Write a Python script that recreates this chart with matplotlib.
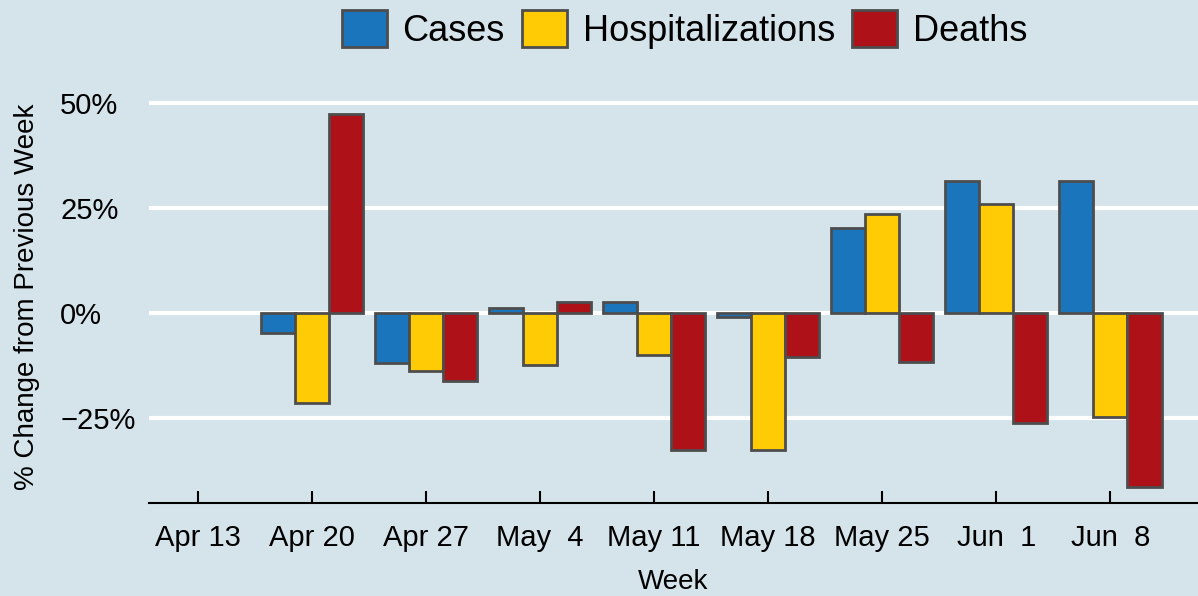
import matplotlib
matplotlib.use("Agg")
import matplotlib.pyplot as plt
import numpy as np

# weekly % change from previous week
weeks = ["Apr 13", "Apr 20", "Apr 27", "May  4", "May 11",
         "May 18", "May 25", "Jun  1", "Jun  8"]
cases = [np.nan, -4.8, -11.9, 1.2, 2.7, -0.9, 20.3, 31.3, 31.4]
hospitalizations = [np.nan, -21.4, -13.7, -12.4, -10.0, -32.6, 23.6, 25.9, -24.7]
deaths = [np.nan, 47.2, -16.0, 2.6, -32.6, -10.4, -11.6, -26.1, -41.2]

series = [("Cases", cases, "#1B75BC"),
          ("Hospitalizations", hospitalizations, "#FFCB05"),
          ("Deaths", deaths, "#AE1117")]

bg = "#D5E4EB"
edge = "#4D4D4D"

plt.rcParams["font.family"] = ["Liberation Sans", "DejaVu Sans"]

fig = plt.figure(figsize=(11.98, 5.96), dpi=100, facecolor=bg)
ax = fig.add_axes([0.1244, 0.156, 0.8756, 0.693], facecolor=bg)

x = np.arange(len(weeks))
width = 0.3
for i, (name, vals, color) in enumerate(series):
    ax.bar(x + (i - 1) * width, vals, width, color=color, edgecolor=edge,
           linewidth=2, label=name, zorder=3)

ax.set_xlim(-0.43, 8.77)
ax.set_ylim(-45.1, 53.0)
ax.set_yticks([-25, 0, 25, 50])
ax.set_yticklabels(["\u221225%", "0%", "25%", "50%"])
ax.set_xticks(x)
ax.set_xticklabels(weeks)

ax.grid(True, axis="y", color="white", linewidth=3, zorder=0)
ax.set_axisbelow(True)
for side in ["left", "right", "top"]:
    ax.spines[side].set_visible(False)
ax.spines["bottom"].set_linewidth(1.5)
ax.spines["bottom"].set_color("black")

ax.tick_params(axis="x", direction="in", length=9, width=1.5, pad=15,
               labelsize=21)
# y tick labels are left aligned at a common left edge
ax.tick_params(axis="y", length=0, pad=64, labelsize=21)
for lab in ax.get_yticklabels():
    lab.set_horizontalalignment("left")

ax.set_xlabel("Week", fontsize=20, labelpad=12)
ax.set_ylabel("% Change from Previous Week", fontsize=20)
ax.yaxis.set_label_coords(-0.104, 0.5)

fig.legend(loc="center", bbox_to_anchor=(0.5714, 0.951), ncol=3,
           frameon=False, fontsize=26, handlelength=1.25, handleheight=1.22,
           handletextpad=0.44, columnspacing=0.47)

fig.savefig("out.png", dpi=100, facecolor=bg)
